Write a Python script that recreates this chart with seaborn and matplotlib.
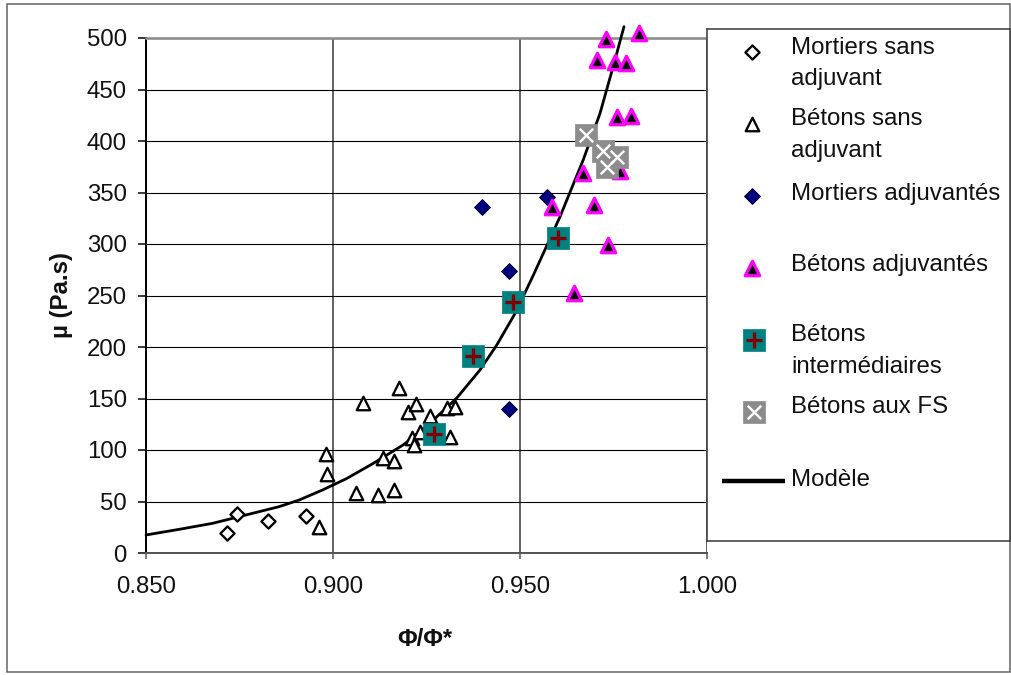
import matplotlib
matplotlib.use("Agg")
import matplotlib.pyplot as plt
import seaborn as sns
from matplotlib.patches import Rectangle

# ---------------- data ----------------
mortiers_sans_phi = [0.8717, 0.8743, 0.8825, 0.8929]
mortiers_sans_mu = [19.4, 37.6, 30.8, 35.6]

betons_sans_phi = [0.8963, 0.8981, 0.8983, 0.9061, 0.9079, 0.9120, 0.9134, 0.9163,
                   0.9163, 0.9176, 0.9200, 0.9210, 0.9216, 0.9223, 0.9232, 0.9259,
                   0.9306, 0.9312, 0.9325]
betons_sans_mu = [25.5, 96.1, 76.4, 58.5, 145.9, 56.3, 91.9, 61.2,
                  89.3, 159.9, 137.2, 111.4, 104.9, 144.7, 117.8, 133.0,
                  140.5, 112.9, 142.0]

mortiers_adj_phi = [0.9398, 0.9471, 0.9471, 0.9571]
mortiers_adj_mu = [335.6, 274.1, 140.1, 345.9]

betons_adj_phi = [0.9730, 0.9819, 0.9705, 0.9754, 0.9783, 0.9760, 0.9797, 0.9669,
                  0.9585, 0.9698, 0.9735, 0.9644, 0.9767]
betons_adj_mu = [498.7, 504.6, 478.6, 477.0, 475.4, 423.0, 424.3, 369.2,
                 336.4, 337.9, 299.5, 252.1, 371.0]

betons_inter_phi = [0.9271, 0.9374, 0.9482, 0.9602]
betons_inter_mu = [115.2, 191.6, 244.0, 305.5]

betons_fs_phi = [0.9676, 0.9723, 0.9760, 0.9733]
betons_fs_mu = [405.8, 390.6, 384.8, 375.0]

model_phi = [0.850, 0.8589, 0.8678, 0.8767, 0.8856, 0.8910, 0.8972, 0.9035, 0.9108,
             0.9188, 0.9259, 0.9331, 0.9393, 0.9438, 0.9487, 0.9536, 0.9607, 0.9669,
             0.9714, 0.9749, 0.9778]
model_mu = [17.5, 23.0, 28.8, 36.9, 45.0, 51.5, 61.2, 72.0, 87.1,
            105.0, 125.9, 150.5, 177.7, 202.0, 232.7, 270.0, 326.5, 381.6,
            426.9, 472.1, 511.0]

x_ticks = [0.85, 0.90, 0.95, 1.00]
x_tick_labels = ["0.850", "0.900", "0.950", "1.000"]
y_ticks = [0, 50, 100, 150, 200, 250, 300, 350, 400, 450, 500]

legend_labels = ["Mortiers sans\nadjuvant", "Bétons sans\nadjuvant", "Mortiers adjuvantés",
                 "Bétons adjuvantés", "Bétons\nintermédiaires", "Bétons aux FS", "Modèle"]

# ---------------- style ----------------
sns.set_theme(style="white")
plt.rcParams["font.family"] = ["Liberation Sans", "DejaVu Sans"]
FS = 17.3
PX = 72 / 100.0  # points per pixel

W, H = 1012, 675
fig = plt.figure(figsize=(W / 100, H / 100), dpi=100)
fig.patch.set_facecolor("white")

L, R, T, B = 146, 707, 38, 553
ax = fig.add_axes([L / W, 1 - B / H, (R - L) / W, (B - T) / H])
ax.set_facecolor("white")

# marker styles
diamond_open = dict(marker="D", s=(10.0 * PX) ** 2, color="white", edgecolor="black",
                    linewidth=2.3 * PX)
tri_open = dict(marker="^", s=(13.5 * PX) ** 2, color="white", edgecolor="black",
                linewidth=2.3 * PX)
diamond_navy = dict(marker="D", s=(11.0 * PX) ** 2, color="#000080", edgecolor="#000030",
                    linewidth=1.2 * PX)
tri_mag = dict(marker="^", s=(14.5 * PX) ** 2, color="black", edgecolor="#ff00ff",
               linewidth=3.2 * PX)
sq_teal = dict(marker="s", s=(22 * PX) ** 2, color="#008080", edgecolor="#008080",
               linewidth=0.5)
plus_red = dict(marker="+", s=(15.5 * PX) ** 2, color="#800000", linewidth=3.2 * PX)
sq_gray = dict(marker="s", s=(22 * PX) ** 2, color="#8c8c8c", edgecolor="#8c8c8c",
               linewidth=0.5)
x_white = dict(marker="x", s=(13.5 * PX) ** 2, color="white", linewidth=2.4 * PX)

# model curve
sns.lineplot(x=model_phi, y=model_mu, ax=ax, color="black", linewidth=2.0,
             estimator=None, sort=False, clip_on=False, zorder=3)

sns.scatterplot(x=mortiers_sans_phi, y=mortiers_sans_mu, ax=ax, clip_on=False, zorder=4, **diamond_open)
sns.scatterplot(x=betons_sans_phi, y=betons_sans_mu, ax=ax, clip_on=False, zorder=4, **tri_open)
sns.scatterplot(x=mortiers_adj_phi, y=mortiers_adj_mu, ax=ax, clip_on=False, zorder=5, **diamond_navy)
sns.scatterplot(x=betons_adj_phi, y=betons_adj_mu, ax=ax, clip_on=False, zorder=6, **tri_mag)
sns.scatterplot(x=betons_inter_phi, y=betons_inter_mu, ax=ax, clip_on=False, zorder=7, **sq_teal)
sns.scatterplot(x=betons_inter_phi, y=betons_inter_mu, ax=ax, clip_on=False, zorder=7.1, **plus_red)
sns.scatterplot(x=betons_fs_phi, y=betons_fs_mu, ax=ax, clip_on=False, zorder=8, **sq_gray)
sns.scatterplot(x=betons_fs_phi, y=betons_fs_mu, ax=ax, clip_on=False, zorder=8.1, **x_white)

ax.set_xlim(0.85, 1.0)
ax.set_ylim(0, 500)
ax.set_xticks(x_ticks)
ax.set_xticklabels(x_tick_labels)
ax.set_yticks(y_ticks)

ax.set_axisbelow(True)
ax.yaxis.grid(True, color="black", linewidth=0.8)
ax.xaxis.grid(True, color="#555555", linewidth=1.3)
ax.get_ygridlines()[-1].set_visible(False)
ax.get_ygridlines()[0].set_visible(False)
ax.get_xgridlines()[0].set_visible(False)

for side in ["left", "bottom", "top", "right"]:
    ax.spines[side].set_visible(True)
ax.spines["right"].set_visible(False)
ax.spines["left"].set_color("black")
ax.spines["left"].set_linewidth(2.0 * PX)
ax.spines["bottom"].set_color("#555555")
ax.spines["bottom"].set_linewidth(2.0 * PX)
ax.spines["top"].set_color("#8c8c8c")
ax.spines["top"].set_linewidth(2.6 * PX)

ax.tick_params(axis="y", which="major", direction="out", length=8 * PX, width=1.5 * PX,
               color="black", left=True, labelsize=FS, pad=8, labelcolor="#111111")
ax.tick_params(axis="x", which="major", direction="out", length=6 * PX, width=1.5 * PX,
               color="#555555", bottom=True, labelsize=FS, pad=12, labelcolor="#111111")

ax.set_ylabel("µ (Pa.s)", fontsize=FS, fontweight="bold", color="#111111")
ax.yaxis.set_label_coords((73 - L) / (R - L), 0.5)
ax.set_xlabel("Φ/Φ*", fontsize=FS, fontweight="bold", color="#111111")
ax.xaxis.label.set_va("center")
ax.xaxis.set_label_coords((425 - L) / (R - L), (B - 639) / (B - T))

# ---------------- legend box (pixel coordinates) ----------------
LL, LR, LT, LB = 707, 1010, 29, 541
lg = fig.add_axes([LL / W, 1 - LB / H, (LR - LL) / W, (LB - LT) / H], zorder=10)
lg.set_facecolor("white")
lg.set_xlim(LL, LR)
lg.set_ylim(LB, LT)
lg.set_xticks([])
lg.set_yticks([])
for s in lg.spines.values():
    s.set_visible(True)
    s.set_color("#404040")
    s.set_linewidth(1.6 * PX)

mx, tx = 752, 791
LINE_STEP = 30
rows_marker_y = [52, 123.5, 196, 268, 340, 411.5, 481]
rows_text_y = [55, 126.7, 200, 270.7, 342.7, 413.3, 486]
lg_styles = [[diamond_open], [tri_open], [diamond_navy], [tri_mag],
             [sq_teal, plus_red], [sq_gray, x_white], None]
for i, lab in enumerate(legend_labels):
    st = lg_styles[i]
    if st is None:
        lg.plot([722, 785], [rows_marker_y[i]] * 2, color="black", linewidth=3.2,
                solid_capstyle="butt")
    else:
        for k, sdict in enumerate(st):
            xx = mx + (2 if sdict["marker"] in ("s", "+", "x") else 0)
            lg.scatter([xx], [rows_marker_y[i]], zorder=3 + k, **sdict)
    nlines = lab.count("\n") + 1
    lg.text(tx, rows_text_y[i] + LINE_STEP * (nlines - 1), lab, fontsize=FS,
            va="baseline", ha="left", color="#111111", linespacing=1.55)

# figure border
fig.add_artist(Rectangle((7 / W, 3 / H), (1010 - 7) / W, (671 - 3) / H,
                         transform=fig.transFigure, fill=False,
                         edgecolor="#606060", linewidth=1.5 * PX))

fig.savefig("out.png", dpi=100, facecolor="white")
